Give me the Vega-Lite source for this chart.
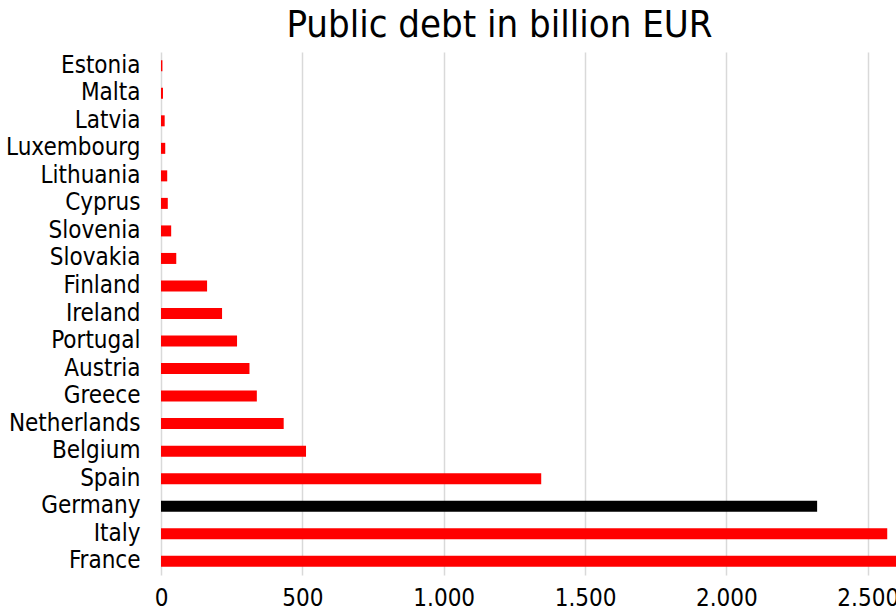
{
  "$schema": "https://vega.github.io/schema/vega-lite/v6.json",
  "width": 735,
  "height": 523,
  "autosize": {"type": "none"},
  "padding": {"left": 161, "top": 52, "right": 0, "bottom": 39},
  "background": "white",
  "title": {
    "text": "Public debt in billion EUR",
    "fontSize": 38,
    "font": "DejaVu Sans Condensed",
    "fontWeight": "normal",
    "color": "black",
    "anchor": "middle",
    "dx": -29,
    "offset": 7
  },
  "data": {
    "values": [
      {"country": "Estonia", "debt": 5},
      {"country": "Malta", "debt": 7},
      {"country": "Latvia", "debt": 13},
      {"country": "Luxembourg", "debt": 15},
      {"country": "Lithuania", "debt": 22},
      {"country": "Cyprus", "debt": 24},
      {"country": "Slovenia", "debt": 36},
      {"country": "Slovakia", "debt": 54},
      {"country": "Finland", "debt": 163},
      {"country": "Ireland", "debt": 216},
      {"country": "Portugal", "debt": 269},
      {"country": "Austria", "debt": 313},
      {"country": "Greece", "debt": 339},
      {"country": "Netherlands", "debt": 434},
      {"country": "Belgium", "debt": 513},
      {"country": "Spain", "debt": 1345},
      {"country": "Germany", "debt": 2321},
      {"country": "Italy", "debt": 2569},
      {"country": "France", "debt": 2800}
    ]
  },
  "mark": {"type": "bar", "clip": true},
  "encoding": {
    "y": {
      "field": "country",
      "type": "nominal",
      "sort": null,
      "scale": {"paddingInner": 0.6, "paddingOuter": 0.3},
      "axis": {
        "title": null,
        "domain": false,
        "ticks": false,
        "labelFontSize": 24,
        "labelFont": "DejaVu Sans Condensed",
        "labelColor": "black",
        "labelPadding": 21
      }
    },
    "x": {
      "field": "debt",
      "type": "quantitative",
      "scale": {"domain": [0, 2600], "nice": false},
      "axis": {
        "title": null,
        "values": [0, 500, 1000, 1500, 2000, 2500],
        "labelExpr": "replace(format(datum.value, ','), ',', '.')",
        "domain": false,
        "ticks": false,
        "grid": true,
        "gridColor": "#d9d9d9",
        "gridWidth": 1.5,
        "labelFontSize": 24,
        "labelFont": "DejaVu Sans Condensed",
        "labelColor": "black",
        "labelPadding": 11,
        "labelFlush": false
      }
    },
    "color": {
      "condition": {"test": "datum.country === 'Germany'", "value": "black"},
      "value": "#ff0000"
    }
  },
  "config": {"view": {"stroke": null}}
}
